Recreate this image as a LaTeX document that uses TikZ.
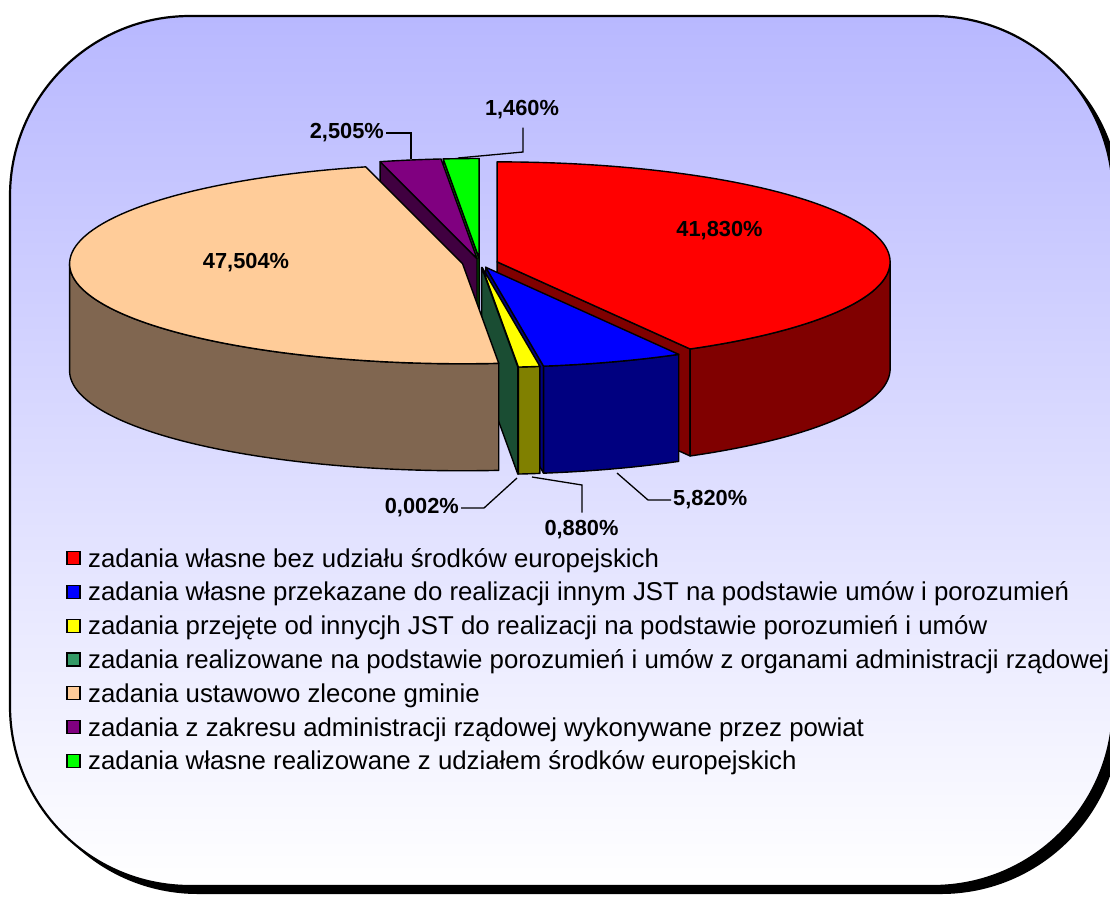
\documentclass[tikz,border=0pt]{standalone}
\usepackage{fontspec}
\setmainfont{Liberation Sans}
\definecolor{bgtop}{RGB}{184,184,255}
\definecolor{cred}{HTML}{FF0000}
\definecolor{credside}{HTML}{800000}
\definecolor{cblue}{HTML}{0000FF}
\definecolor{cblueside}{HTML}{000080}
\definecolor{cyellow}{HTML}{FFFF00}
\definecolor{cyellowside}{HTML}{808000}
\definecolor{cdkgreen}{HTML}{339966}
\definecolor{cdkgreenside}{HTML}{1A4D33}
\definecolor{cpeach}{HTML}{FFCC99}
\definecolor{cpeachside}{HTML}{806650}
\definecolor{cpurple}{HTML}{800080}
\definecolor{cpurpleside}{HTML}{400040}
\definecolor{cgreen}{HTML}{00FF00}
\definecolor{cgreenside}{HTML}{008000}
\def\RX{393}
\def\RY{100}
\def\HH{107}
\newcommand\setapex[1]{%
  \pgfmathsetmacro\ax{480+17.685*cos(#1)}%
  \pgfmathsetmacro\ay{263-4.5*sin(#1)}}
\newcommand\topface[3]{%
  \filldraw[pieline,fill=#3] (\ax,\ay) -- plot[domain=#1:#2,samples=90] ({\ax+\RX*cos(\x)},{\ay-\RY*sin(\x)}) -- cycle;}
\newcommand\outerface[3]{%
  \filldraw[pieline,fill=#3] plot[domain=#1:#2,samples=70] ({\ax+\RX*cos(\x)},{\ay-\RY*sin(\x)})
    -- plot[domain=#2:#1,samples=70] ({\ax+\RX*cos(\x)},{\ay-\RY*sin(\x)+\HH}) -- cycle;}
\newcommand\radface[2]{%
  \filldraw[pieline,fill=#2] (\ax,\ay) -- ({\ax+\RX*cos(#1)},{\ay-\RY*sin(#1)}) -- ++(0,\HH) -- (\ax,{\ay+\HH}) -- cycle;}
\begin{document}
\begin{tikzpicture}[x=1pt,y=-1pt,
  pieline/.style={draw=black,line width=1.4pt,line join=round},
  lbl/.style={font=\bfseries\fontsize{21.8}{26}\selectfont,inner sep=2pt},
  leader/.style={draw=black,line width=1.3pt},
  legtext/.style={font=\fontsize{25.8}{30}\selectfont,anchor=base west,inner sep=0pt},
  legbox/.style={draw=black,line width=1.2pt,minimum size=13pt,inner sep=0pt}]
\useasboundingbox (0,0) rectangle (1110,898);
% frame with shadow
\fill[black,rounded corners=180pt] (18,24) rectangle (1121,894);
\shade[top color=bgtop,bottom color=white,rounded corners=180pt] (10,16) rectangle (1113,886);
\draw[black,line width=2.2pt,rounded corners=180pt] (10,16) rectangle (1113,886);
% pie slices (back to front)
\setapex{92.626}
\radface{95.252}{cgreenside}
\topface{90}{95.252}{cgreen}
\setapex{99.761}
\radface{104.27}{cpurpleside}
\topface{95.252}{104.27}{cpurple}
\setapex{14.706}
\radface{-60.588}{credside}
\outerface{-60.588}{0}{credside}
\topface{-60.588}{90}{cred}
\setapex{-71.064}
\radface{-81.54}{cblueside}
\outerface{-81.54}{-60.588}{cblueside}
\topface{-81.54}{-60.588}{cblue}
\setapex{-83.124}
\radface{-84.708}{cyellowside}
\outerface{-84.708}{-81.54}{cyellowside}
\topface{-84.708}{-81.54}{cyellow}
\setapex{-84.711}
\radface{-84.715}{cdkgreenside}
\setapex{189.78}
\outerface{180}{275.285}{cpeachside}
\topface{104.27}{275.285}{cpeach}
% data labels
\node[lbl] (l41830) at (719.5,231) {41,830\%};
\node[lbl] (l47504) at (246,263) {47,504\%};
\node[lbl,anchor=east] (l2505) at (386,133) {2,505\%};
\node[lbl] (l1460) at (522,110) {1,460\%};
\node[lbl,anchor=east] (l0002) at (461,508) {0,002\%};
\node[lbl] (l0880) at (581.5,530) {0,880\%};
\node[lbl,anchor=west] (l5820) at (671,500) {5,820\%};
% leader lines
\coordinate (e2505) at (411,159);
\coordinate (b1460) at (523,152);
\coordinate (e1460) at (458,158);
\coordinate (b0002) at (484,508);
\coordinate (e0002) at (517,478);
\coordinate (b0880) at (582,485);
\coordinate (e0880) at (532,477);
\coordinate (b5820) at (648,500);
\coordinate (e5820) at (617,473);
\draw[leader] (l2505.east) -| (e2505);
\draw[leader,shorten <=6pt] (l1460.south -| b1460) -- (b1460) -- (e1460);
\draw[leader] (l0002.east) -- (b0002) -- (e0002);
\draw[leader,shorten <=6pt] (l0880.north -| b0880) -- (b0880) -- (e0880);
\draw[leader] (l5820.west) -- (b5820) -- (e5820);
% legend
\foreach \i/\c/\t in {
  0/cred/{zadania własne bez udziału środków europejskich},
  1/cblue/{zadania własne przekazane do realizacji innym JST na podstawie umów i porozumień},
  2/cyellow/{zadania przejęte od innycjh JST do realizacji na podstawie porozumień i umów},
  3/cdkgreen/{zadania realizowane na podstawie porozumień i umów z organami administracji rządowej},
  4/cpeach/{zadania ustawowo zlecone gminie},
  5/cpurple/{zadania z zakresu administracji rządowej wykonywane przez powiat},
  6/cgreen/{zadania własne realizowane z udziałem środków europejskich}}{
  \node[legbox,fill=\c] (key\i) at (73.5,{558+33.8*\i}) {};
  \node[legtext] (leg\i) at (88,{567+33.8*\i}) {\t};
}
\end{tikzpicture}
\end{document}
